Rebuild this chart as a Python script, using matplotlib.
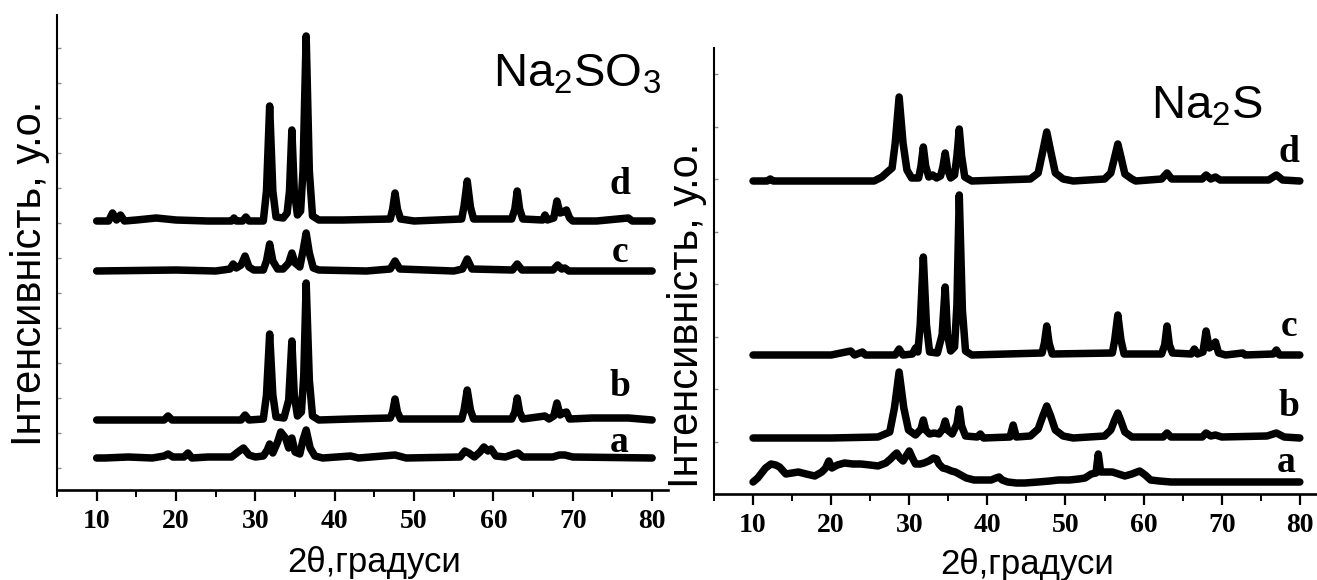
import matplotlib
matplotlib.use('Agg')
import matplotlib.pyplot as plt

plt.rcParams['font.family'] = ['Liberation Sans', 'DejaVu Sans']
plt.rcParams['mathtext.fontset'] = 'custom'
plt.rcParams['mathtext.rm'] = 'Liberation Sans'

# heights in arbitrary units above the x axis
labels = ['a', 'b', 'c', 'd']

# ---- Na2SO3 panel ----
so3_offsets = [32, 70, 219, 269]

so3_a_x = [10, 11, 14, 17, 18.5, 19, 19.6, 21, 21.5, 22, 24, 27.0, 27.8, 28.5, 29.2, 30, 31.0, 31.5, 31.8,
           32.2, 32.8, 33.2, 33.8, 34.2, 34.6, 35.0, 35.6, 36.0, 36.4, 36.9, 37.5, 38.5, 42, 43, 47.6, 49,
           55.8, 56.4, 56.9, 57.6, 58.3, 58.8, 59.3, 59.7, 60.3, 61.5, 62.6, 63.1, 63.7, 67.5, 68.3, 69, 70, 80]
so3_a_y = [0, 0, 1, 0, 2, 4, 1, 1, 5, 0, 1, 1, 6, 10, 3, 1, 2, 8, 14,
           5, 16, 26, 20, 10, 20, 6, 4, 18, 28, 10, 2, 0, 2, 0, 3, 0,
           1, 7, 5, 1, 6, 11, 7, 9, 2, 1, 4, 5, 1, 1, 3, 3, 1, 0]

so3_b_x = [10, 18.5, 19.0, 19.5, 28.2, 28.7, 29.2, 31.0, 31.4, 31.8, 32.2, 32.6, 33.6, 34.2, 34.6, 34.9, 35.3,
           35.8, 36.1, 36.4, 36.8, 37.2, 38, 42, 47.0, 47.3, 47.6, 47.9, 48.3, 56.0, 56.3, 56.7, 57.1, 57.5,
           62.3, 62.7, 63.0, 63.3, 63.7, 66.5, 67.0, 67.6, 68.0, 68.4, 68.8, 69.2, 69.6, 72.5, 77.0, 80]
so3_b_y = [0, 0, 4, 0, 0, 5, 0, 1, 25, 86, 25, 3, 2, 20, 79, 25, 4,
           8, 45, 137, 40, 4, 0, 1, 2, 8, 21, 8, 1, 1, 10, 30, 10, 1,
           1, 8, 22, 8, 1, 4, 1, 4, 17, 5, 7, 8, 1, 2, 2, 0]

so3_c_x = [10, 20, 25, 26.8, 27.2, 27.6, 28.2, 28.7, 29.2, 29.8, 31.0, 31.4, 31.8, 32.2, 32.8, 33.5, 34.2,
           34.6, 35.0, 35.6, 36.0, 36.4, 36.8, 37.3, 38, 44, 47.0, 47.6, 48.2, 55, 56.1, 56.7, 57.3, 62.4,
           63.0, 63.6, 67.5, 68.1, 68.6, 69.0, 69.5, 80]
so3_c_y = [0, 1, 0, 2, 7, 3, 6, 15, 4, 1, 1, 10, 27, 10, 2, 2, 8,
           18, 8, 4, 20, 38, 18, 3, 1, 0, 2, 10, 2, 0, 2, 12, 2, 1,
           7, 1, 1, 6, 2, 3, 0, 0]

so3_d_x = [10, 11.5, 12, 12.5, 13, 13.5, 15, 17.5, 20, 24, 27, 27.3, 27.6, 28.4, 28.8, 29.2, 31.0, 31.4,
           31.8, 32.2, 32.6, 33.5, 34.0, 34.3, 34.6, 34.9, 35.3, 35.7, 36.0, 36.4, 36.8, 37.2, 38, 41,
           47.0, 47.3, 47.6, 47.9, 48.3, 50, 56.0, 56.3, 56.7, 57.1, 57.5, 62.3, 62.7, 63.0, 63.3, 63.7,
           66.2, 66.5, 66.8, 67.6, 68.0, 68.4, 68.8, 69.2, 69.6, 70, 73, 77.0, 77.5, 80]
so3_d_y = [0, 0, 8, 1, 6, 0, 1, 3, 1, 0, 0, 3, 0, 0, 4, 0, 0, 30,
           115, 30, 4, 3, 8, 30, 91, 30, 6, 10, 50, 185, 50, 5, 1, 1,
           2, 12, 28, 12, 2, 0, 2, 15, 40, 14, 2, 2, 12, 30, 12, 2,
           1, 6, 1, 3, 20, 8, 9, 11, 3, 0, 0, 3, 0, 0]

# ---- Na2S panel ----
s_offsets = [0, 56, 139, 313]

s_a_x = [10.0, 10.6, 11.2, 11.6, 12.3, 12.9, 13.4, 14.2, 15.0, 15.8, 16.8, 17.9, 18.8, 19.3, 19.7, 20.1,
         20.8, 21.7, 22.8, 23.8, 25.0, 26.0, 27.0, 27.6, 28.1, 28.4, 28.8, 29.2, 29.6, 30.0, 30.4, 30.8,
         31.4, 31.9, 32.5, 33.1, 33.5, 33.8, 34.3, 34.8, 35.4, 35.9, 36.6, 37.3, 38.3, 39.4, 40.5, 41.1,
         41.5, 41.9, 42.6, 43.7, 44.8, 46.5, 48.0, 49.1, 50.5, 51.7, 52.5, 53.3, 53.9, 54.2, 54.5, 55.2,
         56.0, 56.8, 57.6, 58.5, 59.5, 60.2, 60.9, 62.0, 63.5, 65.2, 70, 75, 80]
s_a_y = [12, 16, 22, 26, 30, 29, 27, 20, 21, 22, 20, 18, 22, 26, 33, 26,
         29, 31, 30, 30, 29, 28, 31, 35, 39, 41, 36, 33, 38, 43, 36, 30,
         30, 31, 33, 36, 35, 30, 26, 25, 23, 22, 19, 16, 14, 14, 14, 16,
         17, 14, 12, 11, 11, 12, 13, 14, 14, 15, 16, 20, 21, 40, 22, 22,
         22, 20, 18, 20, 23, 19, 14, 13, 12, 12, 12, 12, 12]

s_b_x = [10, 20, 26, 27.5, 28.1, 28.7, 29.3, 29.9, 30.8, 31.5, 31.8, 32.1, 32.6, 33.2, 33.8, 34.3, 34.6,
         34.9, 35.5, 36.1, 36.4, 36.7, 37.2, 38.7, 39.1, 39.5, 42.9, 43.3, 43.7, 45.5, 46.5, 47.1, 47.6,
         48.1, 48.7, 49.7, 51, 55.0, 55.8, 56.3, 56.7, 57.1, 57.6, 58.5, 62.5, 63.0, 63.5, 67.5, 68.0,
         68.6, 69.2, 70, 75.8, 77.0, 78.0, 80]
s_b_y = [0, 0, 1, 6, 30, 66, 30, 8, 3, 9, 18, 8, 4, 5, 4, 9, 17,
         8, 4, 14, 29, 12, 2, 1, 4, 0, 1, 13, 1, 2, 9, 22, 32,
         22, 8, 2, 0, 2, 8, 18, 25, 17, 6, 1, 1, 5, 1, 1, 5,
         2, 3, 1, 2, 5, 1, 0]

s_c_x = [10, 20, 22.5, 23, 24.0, 24.4, 28.2, 28.7, 29.2, 30.4, 30.8, 31.1, 31.4, 31.8, 32.2, 32.6, 33.6,
         34.2, 34.6, 34.9, 35.3, 35.8, 36.1, 36.4, 36.8, 37.2, 38, 47.0, 47.3, 47.6, 47.9, 48.3, 56.0,
         56.3, 56.7, 57.1, 57.5, 62.3, 62.7, 63.0, 63.3, 63.7, 66.1, 66.5, 66.9, 67.6, 68.0, 68.4, 68.8,
         69.2, 69.6, 70.5, 72.7, 73, 76.6, 77.0, 77.4, 80]
s_c_y = [0, 0, 4, 0, 3, 0, 0, 6, 0, 1, 7, 3, 30, 98, 30, 3, 2,
         20, 68, 20, 4, 8, 50, 160, 45, 4, 0, 2, 12, 29, 12, 1, 2,
         15, 40, 15, 1, 1, 10, 29, 10, 2, 1, 6, 1, 3, 24, 7, 9,
         13, 2, 0, 2, 0, 1, 5, 0, 0]

s_d_x = [10, 11.8, 12.2, 12.6, 20, 25.5, 26.5, 27.2, 27.8, 28.2, 28.7, 29.2, 29.7, 30.3, 31.2, 31.5, 31.8,
         32.1, 32.5, 33.0, 33.5, 34.0, 34.3, 34.6, 34.9, 35.3, 35.8, 36.1, 36.4, 36.7, 37.1, 38, 45.5,
         46.5, 47.1, 47.6, 48.1, 48.7, 49.7, 51, 55.0, 55.8, 56.3, 56.7, 57.1, 57.6, 58.5, 59, 62.3,
         63.0, 63.6, 67.5, 68.0, 68.6, 69.2, 69.8, 76, 77.0, 77.8, 80]
s_d_y = [0, 0, 2, 0, 0, 0, 4, 9, 13, 38, 84, 38, 11, 3, 3, 15, 34,
         15, 4, 6, 3, 5, 14, 28, 12, 3, 6, 25, 52, 25, 4, 0, 2,
         8, 30, 49, 30, 8, 2, 0, 2, 8, 24, 37, 24, 7, 2, 0, 2,
         8, 2, 2, 6, 2, 4, 1, 1, 6, 1, 0]

so3_traces = [(so3_a_x, so3_a_y), (so3_b_x, so3_b_y), (so3_c_x, so3_c_y), (so3_d_x, so3_d_y)]
s_traces = [(s_a_x, s_a_y), (s_b_x, s_b_y), (s_c_x, s_c_y), (s_d_x, s_d_y)]

so3_label_pos = [(75.9, 47), (75.9, 103), (75.9, 238), (75.9, 306)]
s_label_pos = [(78.3, 32), (78.6, 87), (78.6, 168), (78.6, 341)]

fig = plt.figure(figsize=(13.17, 5.8), dpi=100)
ax1 = fig.add_axes([57 / 1317, 1 - 490 / 580, 611 / 1317, 475 / 580])
ax2 = fig.add_axes([714 / 1317, 1 - 494 / 580, 603 / 1317, 446 / 580])

tick_font = {'family': 'Liberation Serif', 'weight': 'bold', 'size': 20}


def draw_panel(ax, traces, offsets, label_pos, ymax, xmax, yminor, title, title_xy, ylab_y, xlab_y):
    for (x, y), off, lab, (lx, ly) in zip(traces, offsets, labels, label_pos):
        ax.plot(x, [v + off for v in y], color='black', lw=5.4,
                solid_joinstyle='round', solid_capstyle='round')
        ax.text(lx, ly, lab, ha='center', va='center', family='Liberation Serif',
                weight='bold', fontsize=27)
    ax.set_xlim(5, xmax)
    ax.set_ylim(0, ymax)
    for s in ['top', 'right']:
        ax.spines[s].set_visible(False)
    ax.spines['left'].set_linewidth(1.5)
    ax.spines['bottom'].set_linewidth(1.9)
    ax.set_xticks(range(10, 81, 10))
    ax.set_xticks(range(5, 80, 10), minor=True)
    ax.set_xticklabels([str(v) for v in range(10, 81, 10)], fontdict=tick_font)
    ax.tick_params(axis='x', which='major', direction='out', length=8, width=1.6, pad=6)
    ax.tick_params(axis='x', which='minor', direction='out', length=5, width=1.4)
    ax.set_yticks([])
    ax.set_yticks(yminor, minor=True)
    ax.tick_params(axis='y', which='minor', direction='in', length=3, width=1.0, color='0.55')
    ax.text(title_xy[0], title_xy[1], title, transform=ax.transAxes, ha='left', va='baseline',
            fontsize=34)
    ax.set_ylabel('Інтенсивність, у.о.', fontsize=30)
    ax.yaxis.set_label_coords(-0.012, ylab_y)
    ax.set_xlabel('2θ,градуси', fontsize=25, va='baseline')
    ax.xaxis.set_label_coords(0.519, xlab_y)


draw_panel(ax1, so3_traces, so3_offsets, so3_label_pos, 475, 82,
           [22 + 35 * k for k in range(13)], r'Na$_\mathregular{2}$SO$_\mathregular{3}$',
           (0.713, 0.85), 0.455, -0.1726)
draw_panel(ax2, s_traces, s_offsets, s_label_pos, 446, 82.2,
           [52.5 * k for k in range(1, 9)], r'Na$_\mathregular{2}$S',
           (0.725, 0.843), 0.4, -0.179)

fig.savefig('out.png', dpi=100)
